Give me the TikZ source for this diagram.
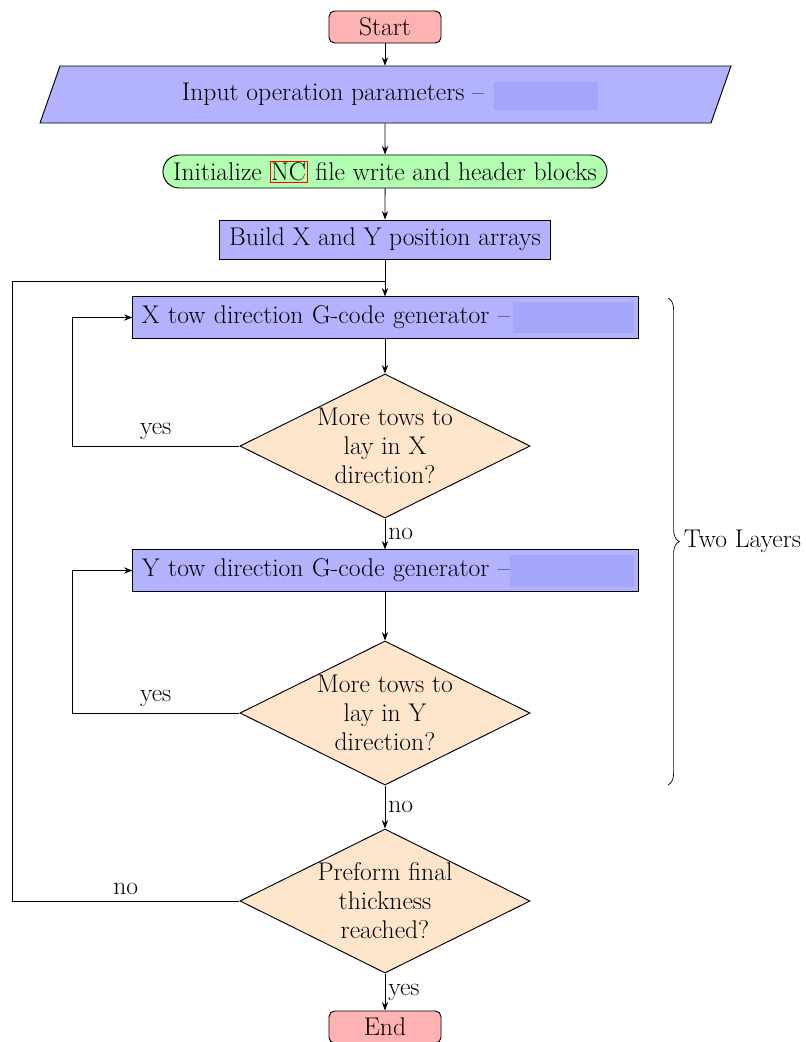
\documentclass[tikz,border=0pt]{standalone}
\usepackage{fontspec}
\usetikzlibrary{shapes.geometric,shapes.misc,arrows.meta,decorations.pathreplacing}
\definecolor{startred}{RGB}{255,178,178}
\definecolor{procblue}{RGB}{178,178,255}
\definecolor{initgreen}{RGB}{178,255,178}
\definecolor{decorange}{RGB}{255,229,204}
\definecolor{redact}{RGB}{164,166,250}
\tikzset{
  base/.style={draw=black, line width=0.67pt, text=black, font=\fontsize{18.2}{20.6}\selectfont},
  startstop/.style={base, fill=startred, rounded corners=4pt, minimum width=2.8cm, minimum height=0.8cm, inner sep=0pt},
  iotext/.style={text=black, font=\fontsize{18.2}{20.6}\selectfont, minimum width=16.2cm, minimum height=1.425cm, inner sep=0pt},
  ioshape/.style={draw=black, line width=0.67pt, fill=procblue},
  initbox/.style={base, fill=initgreen, rounded rectangle, minimum width=11.1cm, minimum height=0.825cm, inner sep=0pt},
  procbox/.style={base, fill=procblue, minimum height=0.925cm, inner sep=0.2cm},
  genbox/.style={base, fill=procblue, minimum height=0.975cm, minimum width=12.625cm, text width=12.175cm, align=left, inner sep=0.225cm},
  decbox/.style={base, fill=decorange, diamond, minimum width=7.25cm, minimum height=3.6cm, inner sep=-30pt, align=center},
  conn/.style={line width=0.67pt, draw=black},
  arr/.style={conn, -{Stealth[length=6pt,width=4.5pt]}},
  lbl/.style={font=\fontsize{18.2}{20.6}\selectfont, text=black, inner sep=2pt},
}
\begin{document}
\begin{tikzpicture}[x=0.025cm,y=-0.025cm]
\useasboundingbox (0,0) rectangle (806,1042);
\node[startstop] (start) at (385,27) {Start};
\filldraw[ioshape] (60,66) -- (731,66) -- (711,123) -- (40,123) -- cycle;
\node[iotext] (input) at (385,94.5) {Input operation parameters --\hspace*{2.6cm}};
\node[initbox] (init) at (385,171.5) {Initialize {\setlength{\fboxsep}{0.6pt}\setlength{\fboxrule}{0.6pt}\fcolorbox{red}{initgreen}{NC}} file write and header blocks};
\node[procbox, minimum width=8.25cm] (build) at (385,239.5) {Build X and Y position arrays};
\node[genbox] (xgen) at (385.5,317.5) {X tow direction G-code generator --};
\node[decbox] (d1) at (385,446) {More tows to\\lay in X\\direction?};
\node[genbox] (ygen) at (385.5,570.5) {Y tow direction G-code generator --};
\node[decbox] (d2) at (385,713) {More tows to\\lay in Y\\direction?};
\node[decbox] (d3) at (385,901) {Preform final\\thickness\\reached?};
\node[startstop] (end) at (385,1027) {End};
% redacted areas
\fill[redact] (494,82) rectangle (598,110);
\fill[redact] (513,302) rectangle (634,333);
\fill[redact] (510,555) rectangle (634,587);
% connectors
\draw[arr] (start) -- (input);
\draw[arr] (input) -- (init);
\draw[arr] (init) -- (build);
\draw[arr] (build.south) -- (build.south |- xgen.north);
\draw[arr] (xgen.south -| d1) -- (d1);
\draw[arr] (d1) -- node[lbl, right] {no} (d1 |- ygen.north);
\draw[arr] (ygen.south -| d2) -- (d2);
\draw[arr] (d2) -- node[lbl, right] {no} (d3);
\draw[arr] (d3) -- node[lbl, right] {yes} (end);
\coordinate (lx1) at (72,446);
\coordinate (lx2) at (72,713);
\coordinate (lo) at (12,901);
\coordinate (lt) at (12,281);
\coordinate (jn) at (385,281);
\draw[arr] (d1.west) -- node[lbl, above, yshift=2pt] {yes} (lx1) |- (xgen.west);
\draw[arr] (d2.west) -- node[lbl, above, yshift=2pt] {yes} (lx2) |- (ygen.west);
\draw[conn] (d3.west) -- node[lbl, above, yshift=2pt] {no} (lo) -- (lt) -- (jn);
% brace
\coordinate (bt) at (668,298);
\coordinate (bb) at (668,785);
\draw[conn, line width=0.5pt, decorate, decoration={brace, amplitude=8pt}] (bt) -- (bb) node[lbl, midway, right, xshift=9pt] (tl) {Two Layers};
\end{tikzpicture}
\end{document}
